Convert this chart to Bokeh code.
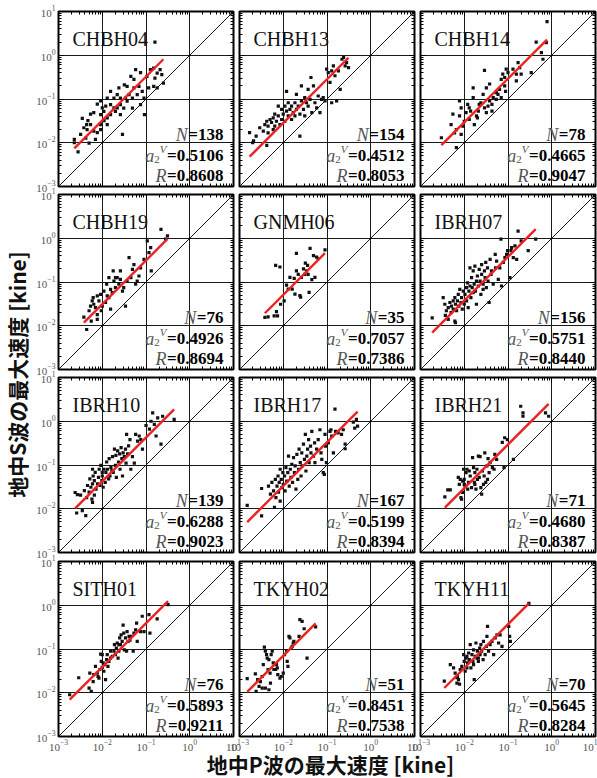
from math import pi
from bokeh.plotting import figure
from bokeh.models import LogAxis, FixedTicker, Label, Range1d
from bokeh.layouts import row, column
from bokeh.embed import file_html
from bokeh.resources import INLINE

# ---------------- data (peak velocities in kine) ----------------
stations = ["CHBH04", "CHBH13", "CHBH14", "CHBH19", "GNMH06", "IBRH07",
            "IBRH10", "IBRH17", "IBRH21", "SITH01", "TKYH02", "TKYH11"]
n_counts = [138, 154, 78, 76, 35, 156, 139, 167, 71, 76, 51, 70]
a2_values = [0.5106, 0.4512, 0.4665, 0.4926, 0.7057, 0.5751,
             0.6288, 0.5199, 0.4680, 0.5893, 0.8451, 0.5645]
r_values = [0.8608, 0.8053, 0.9047, 0.8694, 0.7386, 0.8440,
            0.9023, 0.8394, 0.8387, 0.9211, 0.7538, 0.8284]
decade_ticks = [1e-3, 1e-2, 1e-1, 1e0, 1e1]
x_title = "地中P波の最大速度 [kine]"
y_title = "地中S波の最大速度 [kine]"

# (P-wave peak, S-wave peak) pairs
chbh04 = [(0.16, 2.0), (0.0023, 0.012), (0.0028, 0.0062), (0.0023, 0.010), (0.0032, 0.0155),
          (0.0035, 0.036), (0.0044, 0.026), (0.0047, 0.032), (0.0054, 0.045), (0.0064, 0.049),
          (0.0077, 0.076), (0.0092, 0.090), (0.0092, 0.026), (0.0077, 0.017), (0.010, 0.063),
          (0.012, 0.069), (0.013, 0.105), (0.0155, 0.15), (0.0185, 0.105), (0.022, 0.126),
          (0.024, 0.18), (0.026, 0.105), (0.032, 0.21), (0.037, 0.195), (0.045, 0.33),
          (0.053, 0.28), (0.058, 0.47), (0.063, 0.126), (0.069, 0.195), (0.075, 0.40),
          (0.082, 0.15), (0.090, 0.105), (0.092, 0.044), (0.105, 0.33), (0.115, 0.18),
          (0.126, 0.47), (0.15, 0.51), (0.16, 0.30), (0.18, 0.18), (0.21, 0.47),
          (0.23, 0.36), (0.25, 0.23), (0.029, 0.0155), (0.013, 0.037), (0.011, 0.032),
          (0.0045, 0.020), (0.0064, 0.0185), (0.0092, 0.020), (0.0070, 0.012), (0.0185, 0.063),
          (0.022, 0.063), (0.026, 0.074), (0.031, 0.062), (0.049, 0.105), (0.041, 0.126),
          (0.053, 0.18), (0.037, 0.089), (0.0155, 0.044), (0.013, 0.026), (0.0054, 0.026),
          (0.0038, 0.022), (0.0042, 0.0128), (0.0050, 0.0098), (0.0092, 0.044), (0.0109, 0.052),
          (0.0155, 0.074), (0.020, 0.052), (0.026, 0.044), (0.034, 0.105), (0.049, 0.062),
          (0.075, 0.074), (0.15, 0.195), (0.18, 0.39)]
chbh13 = [(0.0017, 0.017), (0.0021, 0.011), (0.0024, 0.0142), (0.0029, 0.022), (0.0035, 0.0185),
          (0.0038, 0.026), (0.0042, 0.031), (0.0045, 0.024), (0.0045, 0.0169), (0.0050, 0.034),
          (0.0054, 0.029), (0.0059, 0.037), (0.0059, 0.020), (0.0064, 0.045), (0.0064, 0.024),
          (0.0070, 0.031), (0.0077, 0.041), (0.0077, 0.069), (0.0084, 0.026), (0.0092, 0.034),
          (0.0092, 0.058), (0.010, 0.045), (0.0109, 0.031), (0.0109, 0.069), (0.0119, 0.053),
          (0.0119, 0.15), (0.013, 0.041), (0.013, 0.082), (0.0142, 0.058), (0.0155, 0.069),
          (0.0155, 0.034), (0.0169, 0.049), (0.0185, 0.082), (0.0185, 0.041), (0.020, 0.128),
          (0.020, 0.058), (0.022, 0.069), (0.024, 0.045), (0.024, 0.0142), (0.026, 0.20),
          (0.026, 0.090), (0.029, 0.058), (0.031, 0.107), (0.031, 0.041), (0.034, 0.082),
          (0.037, 0.166), (0.037, 0.069), (0.041, 0.098), (0.043, 0.31), (0.045, 0.049),
          (0.049, 0.20), (0.053, 0.082), (0.058, 0.063), (0.063, 0.117), (0.069, 0.049),
          (0.075, 0.098), (0.082, 0.107), (0.090, 0.090), (0.098, 0.48), (0.107, 0.40),
          (0.117, 0.24), (0.128, 0.44), (0.128, 0.082), (0.14, 0.57), (0.152, 0.34),
          (0.166, 0.090), (0.182, 0.44), (0.20, 0.166), (0.22, 0.81), (0.24, 0.89),
          (0.26, 0.57), (0.28, 0.68), (0.31, 0.52), (0.0042, 0.0087), (0.0020, 0.010)]
chbh14 = [(0.0030, 0.013), (0.0050, 0.026), (0.0060, 0.0169), (0.0066, 0.020), (0.0055, 0.045),
          (0.0078, 0.041), (0.0078, 0.090), (0.0085, 0.063), (0.0085, 0.0155), (0.0093, 0.024),
          (0.010, 0.031), (0.011, 0.049), (0.012, 0.075), (0.013, 0.063), (0.014, 0.053),
          (0.016, 0.107), (0.017, 0.026), (0.019, 0.041), (0.021, 0.053), (0.022, 0.075),
          (0.024, 0.082), (0.027, 0.128), (0.029, 0.063), (0.032, 0.049), (0.035, 0.069),
          (0.038, 0.090), (0.043, 0.075), (0.043, 0.053), (0.046, 0.107), (0.054, 0.098),
          (0.059, 0.128), (0.064, 0.166), (0.070, 0.28), (0.076, 0.37), (0.084, 0.31),
          (0.091, 0.48), (0.084, 0.20), (0.10, 0.40), (0.13, 0.48), (0.155, 0.37),
          (0.17, 0.68), (0.185, 0.52), (0.20, 0.37), (0.155, 0.26), (0.34, 0.40),
          (0.44, 2.0), (0.58, 1.15), (0.63, 0.81), (0.75, 1.95), (0.78, 5.9),
          (0.0066, 0.0077), (0.016, 0.18), (0.029, 0.45), (0.032, 0.18), (0.020, 0.037),
          (0.038, 0.22), (0.054, 0.14), (0.070, 0.107), (0.088, 0.15), (0.013, 0.034)]
chbh19 = [(0.0038, 0.0158), (0.0044, 0.0082), (0.0050, 0.022), (0.0054, 0.028), (0.0059, 0.037),
          (0.0062, 0.044), (0.0064, 0.031), (0.0070, 0.026), (0.0077, 0.048), (0.0077, 0.018),
          (0.0084, 0.037), (0.0092, 0.052), (0.0095, 0.022), (0.010, 0.028), (0.0109, 0.062),
          (0.0119, 0.034), (0.0126, 0.089), (0.013, 0.048), (0.0142, 0.044), (0.0155, 0.068),
          (0.0169, 0.057), (0.0178, 0.18), (0.0185, 0.105), (0.020, 0.074), (0.022, 0.126),
          (0.024, 0.089), (0.026, 0.115), (0.029, 0.062), (0.031, 0.074), (0.034, 0.028),
          (0.037, 0.105), (0.041, 0.36), (0.045, 0.126), (0.049, 0.195), (0.053, 0.25),
          (0.058, 0.089), (0.063, 0.105), (0.069, 0.137), (0.075, 0.21), (0.090, 0.33),
          (0.107, 0.87), (0.117, 0.47), (0.128, 0.61), (0.132, 0.18), (0.22, 1.6),
          (0.28, 0.95), (0.31, 1.13), (0.0056, 0.0128), (0.0077, 0.014), (0.0155, 0.024),
          (0.026, 0.18), (0.020, 0.126), (0.0142, 0.126)]
gnmh06 = [(0.0038, 0.0155), (0.0045, 0.016), (0.0062, 0.0169), (0.0074, 0.0169), (0.0070, 0.021),
          (0.0067, 0.24), (0.0084, 0.22), (0.0087, 0.031), (0.0105, 0.037), (0.0119, 0.085),
          (0.013, 0.069), (0.0142, 0.128), (0.016, 0.069), (0.0178, 0.121), (0.0185, 0.053),
          (0.020, 0.18), (0.020, 0.45), (0.022, 0.15), (0.024, 0.049), (0.025, 0.045),
          (0.026, 0.128), (0.029, 0.20), (0.031, 0.15), (0.032, 0.27), (0.034, 0.18),
          (0.036, 0.24), (0.039, 0.058), (0.041, 0.59), (0.045, 0.113), (0.049, 0.40),
          (0.053, 0.128), (0.058, 0.37), (0.063, 0.34), (0.090, 0.54), (0.037, 0.15)]
ibrh07 = [(0.00185, 0.0152), (0.0033, 0.044), (0.0036, 0.031), (0.0037, 0.0172), (0.0039, 0.022),
          (0.0043, 0.026), (0.0043, 0.014), (0.0047, 0.034), (0.0050, 0.020), (0.0051, 0.028),
          (0.0056, 0.037), (0.0056, 0.024), (0.0061, 0.044), (0.0061, 0.0128), (0.0063, 0.031),
          (0.0067, 0.022), (0.0070, 0.037), (0.0073, 0.052), (0.0075, 0.028), (0.0079, 0.068),
          (0.0084, 0.034), (0.0087, 0.044), (0.0090, 0.024), (0.0095, 0.062), (0.010, 0.031),
          (0.0104, 0.052), (0.0113, 0.074), (0.0113, 0.037), (0.0119, 0.096), (0.0123, 0.026),
          (0.0128, 0.062), (0.0135, 0.21), (0.0135, 0.081), (0.0142, 0.044), (0.0147, 0.126),
          (0.0152, 0.074), (0.016, 0.18), (0.016, 0.057), (0.0169, 0.089), (0.0175, 0.23),
          (0.018, 0.062), (0.019, 0.105), (0.019, 0.031), (0.020, 0.137), (0.021, 0.081),
          (0.022, 0.195), (0.023, 0.105), (0.024, 0.052), (0.025, 0.15), (0.025, 0.25),
          (0.027, 0.089), (0.027, 0.068), (0.029, 0.18), (0.030, 0.126), (0.031, 0.28),
          (0.032, 0.074), (0.034, 0.21), (0.035, 0.105), (0.037, 0.034), (0.039, 0.33),
          (0.041, 0.15), (0.042, 0.18), (0.046, 0.089), (0.051, 0.43), (0.052, 0.21),
          (0.055, 0.30), (0.060, 0.115), (0.065, 0.21), (0.069, 0.95), (0.071, 0.081),
          (0.078, 0.28), (0.085, 0.36), (0.093, 0.43), (0.098, 0.52), (0.111, 0.126),
          (0.117, 0.52), (0.121, 0.61), (0.132, 0.36), (0.144, 0.67), (0.158, 0.33),
          (0.17, 1.46), (0.20, 0.87), (0.29, 0.52), (0.43, 0.95), (0.0063, 0.0117)]
ibrh10 = [(0.0024, 0.0235), (0.0027, 0.021), (0.0026, 0.0080), (0.0032, 0.0205), (0.0035, 0.0091),
          (0.0039, 0.026), (0.0042, 0.0070), (0.0044, 0.018), (0.0046, 0.034), (0.0050, 0.024),
          (0.0052, 0.048), (0.0055, 0.031), (0.0058, 0.0166), (0.0060, 0.080), (0.0060, 0.037),
          (0.0062, 0.056), (0.0066, 0.044), (0.0066, 0.0205), (0.0069, 0.068), (0.0072, 0.028),
          (0.0078, 0.037), (0.0082, 0.052), (0.0085, 0.080), (0.0089, 0.034), (0.0093, 0.098),
          (0.0098, 0.044), (0.010, 0.056), (0.0105, 0.031), (0.011, 0.080), (0.0117, 0.040),
          (0.0121, 0.068), (0.0126, 0.117), (0.0132, 0.080), (0.014, 0.048), (0.0144, 0.14),
          (0.015, 0.056), (0.0158, 0.088), (0.0166, 0.074), (0.0172, 0.155), (0.0178, 0.068),
          (0.019, 0.23), (0.020, 0.098), (0.0205, 0.166), (0.021, 0.052), (0.0225, 0.21),
          (0.0235, 0.117), (0.025, 0.18), (0.0255, 0.080), (0.027, 0.25), (0.028, 0.14),
          (0.029, 0.056), (0.030, 0.19), (0.032, 0.155), (0.034, 0.23), (0.035, 0.11),
          (0.036, 0.50), (0.038, 0.18), (0.040, 0.275), (0.043, 0.38), (0.045, 0.080),
          (0.049, 0.155), (0.054, 0.11), (0.058, 0.50), (0.064, 0.35), (0.070, 0.46),
          (0.076, 0.38), (0.083, 0.23), (0.10, 0.80), (0.12, 0.66), (0.13, 1.0),
          (0.142, 1.55), (0.155, 0.85), (0.17, 0.46), (0.185, 1.2), (0.22, 0.30),
          (0.24, 1.3), (0.44, 1.1), (0.0060, 0.014), (0.010, 0.068)]
ibrh17 = [(0.0015, 0.012), (0.0032, 0.029), (0.0032, 0.0069), (0.0046, 0.033), (0.0051, 0.0215),
          (0.0055, 0.040), (0.0060, 0.0255), (0.0063, 0.0107), (0.0066, 0.047), (0.0068, 0.018),
          (0.0072, 0.033), (0.0076, 0.056), (0.0078, 0.024), (0.0081, 0.040), (0.0085, 0.080),
          (0.0085, 0.015), (0.0090, 0.047), (0.0093, 0.0305), (0.0098, 0.067), (0.010, 0.036),
          (0.0107, 0.056), (0.011, 0.0255), (0.0115, 0.087), (0.012, 0.043), (0.0127, 0.067),
          (0.0132, 0.16), (0.0137, 0.033), (0.0145, 0.080), (0.015, 0.052), (0.0157, 0.103),
          (0.0163, 0.040), (0.0172, 0.147), (0.018, 0.067), (0.0187, 0.095), (0.0195, 0.028),
          (0.0205, 0.175), (0.0215, 0.047), (0.0225, 0.080), (0.023, 0.23), (0.0245, 0.113),
          (0.0255, 0.056), (0.0265, 0.19), (0.027, 0.095), (0.029, 0.30), (0.0305, 0.135),
          (0.032, 0.50), (0.033, 0.073), (0.0345, 0.16), (0.036, 0.23), (0.038, 0.38),
          (0.039, 0.113), (0.042, 0.27), (0.043, 0.19), (0.045, 0.59), (0.049, 0.16),
          (0.052, 0.32), (0.053, 0.113), (0.058, 0.23), (0.063, 0.38), (0.069, 0.64),
          (0.073, 0.19), (0.076, 0.135), (0.082, 0.067), (0.087, 0.061), (0.090, 0.50),
          (0.093, 0.27), (0.097, 0.113), (0.107, 0.32), (0.117, 0.59), (0.123, 0.64),
          (0.128, 0.455), (0.14, 0.19), (0.152, 1.9), (0.157, 0.59), (0.18, 0.54),
          (0.215, 0.50), (0.235, 0.64), (0.26, 0.30), (0.26, 0.235), (0.40, 0.95),
          (0.47, 1.1), (0.50, 0.77), (0.43, 0.70)]
ibrh21 = [(0.0036, 0.0187), (0.0042, 0.027), (0.0048, 0.027), (0.0073, 0.052), (0.0077, 0.036),
          (0.0081, 0.047), (0.0084, 0.018), (0.0087, 0.0165), (0.0092, 0.0235), (0.0097, 0.080),
          (0.010, 0.047), (0.0104, 0.033), (0.011, 0.067), (0.0115, 0.080), (0.012, 0.028),
          (0.0125, 0.040), (0.013, 0.073), (0.0137, 0.056), (0.0147, 0.0305), (0.0155, 0.147),
          (0.0163, 0.087), (0.017, 0.040), (0.0175, 0.067), (0.0185, 0.028), (0.0195, 0.080),
          (0.020, 0.047), (0.021, 0.16), (0.022, 0.052), (0.023, 0.155), (0.024, 0.0305),
          (0.025, 0.0215), (0.026, 0.073), (0.0275, 0.036), (0.0285, 0.056), (0.0295, 0.19),
          (0.031, 0.040), (0.033, 0.095), (0.034, 0.047), (0.035, 0.14), (0.037, 0.067),
          (0.039, 0.113), (0.044, 0.087), (0.048, 0.080), (0.050, 0.175), (0.055, 0.135),
          (0.074, 0.33), (0.081, 0.087), (0.084, 0.42), (0.097, 0.38), (0.133, 0.135),
          (0.195, 2.2), (0.22, 1.55), (0.22, 1.3), (0.72, 1.55), (0.85, 1.3),
          (0.010, 0.036), (0.0175, 0.036), (0.0092, 0.043)]
sith01 = [(0.0018, 0.0090), (0.0029, 0.022), (0.0050, 0.0128), (0.0052, 0.028), (0.0056, 0.0107),
          (0.0062, 0.018), (0.0070, 0.040), (0.0077, 0.028), (0.0080, 0.0235), (0.0084, 0.0215),
          (0.0088, 0.034), (0.0092, 0.076), (0.0095, 0.052), (0.010, 0.038), (0.010, 0.074),
          (0.0105, 0.048), (0.0109, 0.031), (0.0113, 0.044), (0.0119, 0.020), (0.0126, 0.057),
          (0.013, 0.074), (0.0135, 0.040), (0.0142, 0.052), (0.0155, 0.062), (0.0169, 0.068),
          (0.0185, 0.089), (0.019, 0.126), (0.020, 0.074), (0.021, 0.105), (0.022, 0.137),
          (0.023, 0.062), (0.024, 0.089), (0.025, 0.18), (0.026, 0.126), (0.027, 0.21),
          (0.0285, 0.15), (0.030, 0.35), (0.031, 0.23), (0.032, 0.096), (0.034, 0.18),
          (0.036, 0.089), (0.037, 0.25), (0.039, 0.15), (0.041, 0.195), (0.043, 0.16),
          (0.046, 0.195), (0.051, 0.089), (0.053, 0.23), (0.058, 0.275), (0.061, 0.39),
          (0.063, 0.15), (0.075, 0.25), (0.082, 0.56), (0.090, 0.25), (0.117, 0.61),
          (0.123, 0.23), (0.18, 0.49), (0.32, 1.03), (0.0064, 0.026), (0.0155, 0.089),
          (0.024, 0.126)]
tkyh02 = [(0.0015, 0.021), (0.0023, 0.027), (0.0024, 0.0107), (0.0026, 0.020), (0.0030, 0.018),
          (0.0033, 0.0235), (0.0035, 0.044), (0.0037, 0.11), (0.0039, 0.089), (0.00415, 0.074),
          (0.0043, 0.062), (0.0045, 0.034), (0.0047, 0.057), (0.0047, 0.0117), (0.0050, 0.028),
          (0.0051, 0.0166), (0.0053, 0.074), (0.0056, 0.089), (0.0059, 0.048), (0.0061, 0.034),
          (0.0067, 0.034), (0.0073, 0.037), (0.0075, 0.026), (0.0084, 0.0215), (0.0090, 0.0235),
          (0.010, 0.028), (0.0107, 0.074), (0.0119, 0.089), (0.0123, 0.052), (0.0128, 0.040),
          (0.0135, 0.195), (0.0142, 0.18), (0.0152, 0.105), (0.016, 0.115), (0.0169, 0.137),
          (0.0175, 0.15), (0.023, 0.195), (0.024, 0.47), (0.027, 0.43), (0.030, 0.29),
          (0.035, 0.062), (0.055, 0.32), (0.0039, 0.0128), (0.0033, 0.0128), (0.0028, 0.014),
          (0.0070, 0.044)]
tkyh11 = [(0.0035, 0.0185), (0.0048, 0.044), (0.0057, 0.037), (0.0062, 0.028), (0.0068, 0.0166),
          (0.0070, 0.0235), (0.0074, 0.020), (0.0078, 0.0158), (0.0081, 0.034), (0.0088, 0.040),
          (0.0097, 0.074), (0.010, 0.052), (0.0105, 0.031), (0.011, 0.062), (0.0115, 0.068),
          (0.0119, 0.048), (0.0126, 0.081), (0.013, 0.057), (0.0137, 0.126), (0.0142, 0.037),
          (0.015, 0.074), (0.0158, 0.052), (0.0163, 0.096), (0.0169, 0.020), (0.0178, 0.068),
          (0.0185, 0.137), (0.0195, 0.062), (0.020, 0.089), (0.021, 0.052), (0.0225, 0.105),
          (0.023, 0.074), (0.024, 0.126), (0.025, 0.089), (0.027, 0.057), (0.0275, 0.15),
          (0.030, 0.074), (0.032, 0.115), (0.033, 0.195), (0.034, 0.33), (0.036, 0.089),
          (0.039, 0.126), (0.043, 0.15), (0.047, 0.074), (0.051, 0.18), (0.056, 0.21),
          (0.061, 0.137), (0.066, 0.21), (0.073, 0.115), (0.104, 0.33), (0.109, 0.195),
          (0.113, 0.15), (0.30, 1.1), (0.0068, 0.022), (0.0115, 0.037), (0.0163, 0.044),
          (0.021, 0.062)]

samples = [chbh04, chbh13, chbh14, chbh19, gnmh06, ibrh07,
           ibrh10, ibrh17, ibrh21, sith01, tkyh02, tkyh11]

# ---------------- styling / layout ----------------
SERIF = "Liberation Serif"
CJK = "Noto Sans CJK JP"
FW = FH = 175
X_LO, X_HI = decade_ticks[0], decade_ticks[-1]
minor_ticks = [m * t for t in decade_ticks[:-1] for m in range(2, 10)]

# per-row / per-column borders and overlaps (px)
ROW_BT = [11, 12, 12, 12]
ROW_BB = [12, 12, 12, 16]
ROW_MT = [0, -16, -16, -15]
YLAB_W = 40
COL_BL = [32, 14, 14]
COL_BR = [14, 14, 2]
COL_ML = [-14, -22, -22]


def style_axis(ax, labels):
    ax.ticker = FixedTicker(ticks=decade_ticks, minor_ticks=minor_ticks)
    ax.axis_line_color = None
    ax.major_tick_in = 5
    ax.major_tick_out = 0
    ax.minor_tick_in = 3
    ax.minor_tick_out = 0
    ax.major_tick_line_color = "black"
    ax.minor_tick_line_color = "black"
    ax.major_label_text_font = SERIF
    if labels:
        ax.major_label_text_font_size = "11px"
        ax.major_label_text_color = "#555555"
        ax.major_label_standoff = 3
    else:
        ax.major_label_text_font_size = "1px"
        ax.major_label_text_alpha = 0.0
        ax.major_label_standoff = 0


def add_text(p, x, y, dx, dy, text, size, style="normal", color="black",
             align="right", font=SERIF):
    p.add_layout(Label(x=x, y=y, x_offset=dx, y_offset=dy, text=text,
                       text_font=font, text_font_size=f"{size}px",
                       text_font_style=style, text_color=color,
                       text_align=align, text_baseline="alphabetic"))


def bold_width(s, size):
    # advance widths of Liberation Serif Bold (Times metrics)
    w = {"=": 0.570, ".": 0.25}
    return sum(w.get(ch, 0.5) for ch in s) * size


def make_panel(k):
    r, c = divmod(k, 3)
    p = figure(x_axis_type="log", y_axis_type="log",
               x_range=Range1d(X_LO, X_HI), y_range=Range1d(X_LO, X_HI),
               frame_width=FW, frame_height=FH,
               min_border_left=COL_BL[c], min_border_right=COL_BR[c],
               min_border_top=ROW_BT[r], min_border_bottom=ROW_BB[r],
               toolbar_location=None, output_backend="svg",
               border_fill_color=None, background_fill_color="white",
               outline_line_color="black", outline_line_width=2,
               margin=(ROW_MT[r], 0, 0, COL_ML[c]))
    style_axis(p.xaxis[0], r == 3)
    style_axis(p.yaxis[0], c == 0)
    top_ax = LogAxis()
    right_ax = LogAxis()
    style_axis(top_ax, False)
    style_axis(right_ax, False)
    p.add_layout(top_ax, "above")
    p.add_layout(right_ax, "right")

    for g in (p.xgrid, p.ygrid):
        g.ticker = FixedTicker(ticks=decade_ticks)
        g.grid_line_color = "#1a1a1a"
        g.grid_line_width = 1

    # 1:1 reference line
    p.line([X_LO, X_HI], [X_LO, X_HI], line_color="black", line_width=0.9)

    pts = samples[k]
    xs = [a for a, b in pts]
    ys = [b for a, b in pts]
    p.scatter(xs, ys, marker="square", size=3.2, color="#111111", line_color=None)

    # fitted line  log10(S) = log10(P) + a2
    gain = 10 ** a2_values[k]
    x0, x1 = min(xs), max(xs)
    p.line([x0, x1], [x0 * gain, x1 * gain], line_color="#ee2020", line_width=2.4)

    # station name
    add_text(p, X_LO, X_HI, 14, -27, stations[k], 20, color="#111111", align="left")

    # statistics block
    NS = 17
    rx = -10
    n_txt = f"={n_counts[k]}"
    a_txt = f"={a2_values[k]:.4f}"
    r_txt = f"={r_values[k]:.4f}"
    grey = "#555555"
    add_text(p, X_HI, X_LO, rx, 52, n_txt, NS, style="bold")
    add_text(p, X_HI, X_LO, rx - bold_width(n_txt, NS) - 0.5, 52, "N", 18,
             style="italic", color=grey)
    add_text(p, X_HI, X_LO, rx, 31, a_txt, NS, style="bold")
    xa = rx - bold_width(a_txt, NS)
    add_text(p, X_HI, X_LO, xa - 0.5, 38, "V", 11, style="italic", color=grey)
    add_text(p, X_HI, X_LO, xa - 7.2, 27, "2", 11, color=grey)
    add_text(p, X_HI, X_LO, xa - 12.7, 31, "a", 18, style="italic", color=grey)
    add_text(p, X_HI, X_LO, rx, 11, r_txt, NS, style="bold")
    add_text(p, X_HI, X_LO, rx - bold_width(r_txt, NS) - 0.5, 11, "R", 18,
             style="italic", color=grey)
    return p


panels = [make_panel(k) for k in range(12)]
grid = column(*[row(*panels[3 * r:3 * r + 3]) for r in range(4)])

GRID_H = sum(ROW_BT[r] + FH + ROW_BB[r] + ROW_MT[r] for r in range(4))
TOTAL_W = YLAB_W + sum(COL_BL[c] + FW + COL_BR[c] + COL_ML[c] for c in range(3))

ylab = figure(width=YLAB_W, height=GRID_H, x_range=Range1d(0, 1), y_range=Range1d(0, 1),
              min_border=0, x_axis_location=None, y_axis_location=None,
              toolbar_location=None, output_backend="svg",
              outline_line_color=None, border_fill_color=None, background_fill_color=None)
ylab.grid.visible = False
ylab.add_layout(Label(x=16 / YLAB_W, y=1 - 374 / GRID_H, text=y_title, angle=pi / 2,
                      text_font=CJK, text_font_size="21px", text_font_style="bold",
                      text_color="#111111", text_align="center", text_baseline="middle"))

XLAB_MT = -14
XLAB_H = 778 - (GRID_H + XLAB_MT)
xlab = figure(width=TOTAL_W, height=XLAB_H, x_range=Range1d(0, 1), y_range=Range1d(0, 1),
              min_border=0, x_axis_location=None, y_axis_location=None,
              toolbar_location=None, output_backend="svg",
              outline_line_color=None, border_fill_color=None, background_fill_color=None,
              margin=(XLAB_MT, 0, 0, 0))
xlab.grid.visible = False
xlab_top = GRID_H + XLAB_MT
xlab.add_layout(Label(x=330 / TOTAL_W, y=1 - (762 - xlab_top) / XLAB_H, text=x_title,
                      text_font=CJK, text_font_size="21px", text_font_style="bold",
                      text_color="#111111", text_align="center", text_baseline="middle"))

layout = column(row(ylab, grid), xlab)

open("out.html", "w").write(file_html(layout, INLINE))
